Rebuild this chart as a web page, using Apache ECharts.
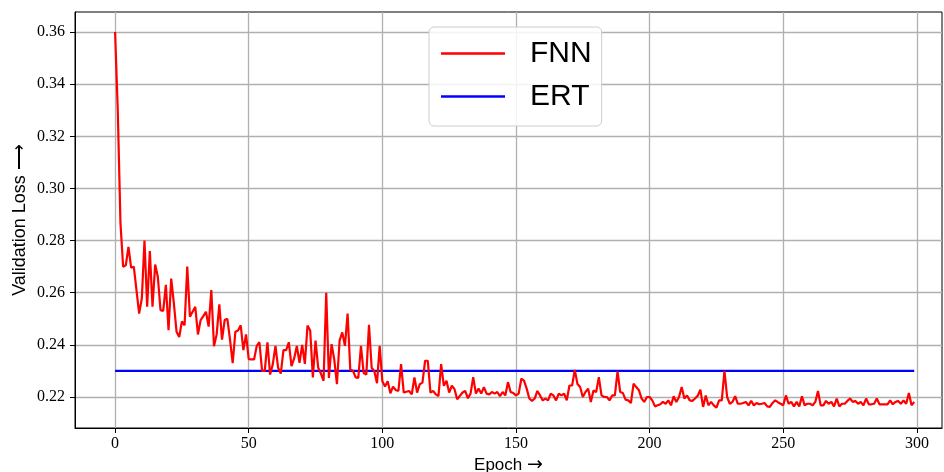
<!DOCTYPE html>
<html>
<head>
<meta charset="utf-8">
<script src="https://cdn.jsdelivr.net/npm/echarts@6/dist/echarts.min.js"></script>
<style>html,body{margin:0;padding:0;background:#fff;}#chart{width:944px;height:472px;}</style>
</head>
<body>
<div id="chart"></div>
<script>
const fnnLoss = [
0.360,0.330,0.287,0.270,0.2705,0.2776,0.2696,0.2700,0.2610,0.2520,
0.2578,0.2800,0.2546,0.2760,0.2546,0.2708,0.2660,0.2533,0.2530,0.2630,
0.2456,0.2654,0.2558,0.2450,0.2430,0.2490,0.2475,0.2700,0.2508,0.2527,
0.2546,0.2440,0.2495,0.2510,0.2527,0.2470,0.2610,0.2395,0.2440,0.2555,
0.2420,0.2495,0.2500,0.2420,0.2330,0.2450,0.2455,0.2475,0.2380,0.2440,
0.2345,0.2344,0.2344,0.2396,0.2410,0.2300,0.2300,0.2410,0.2286,0.2325,
0.2396,0.2312,0.2290,0.2380,0.2380,0.2410,0.2318,0.2348,0.2396,0.2331,
0.2400,0.2327,0.2474,0.2455,0.2275,0.2416,0.2312,0.2290,0.2262,0.2600,
0.2273,0.2403,0.2344,0.2249,0.2416,0.2448,0.2396,0.2520,0.2305,0.2301,
0.2275,0.2273,0.2396,0.2292,0.2286,0.2477,0.2312,0.2299,0.2253,0.2396,
0.2260,0.2240,0.2260,0.2214,0.2240,0.2227,0.2223,0.2326,0.2217,0.2220,
0.2223,0.2210,0.2275,0.2217,0.2249,0.2255,0.2339,0.2339,0.2217,0.2223,
0.2210,0.2204,0.2326,0.2243,0.2262,0.2217,0.2243,0.2230,0.2191,0.2204,
0.2217,0.2223,0.2195,0.2213,0.2276,0.2213,0.2232,0.2213,0.2238,0.2213,
0.2210,0.2219,0.2213,0.2219,0.2203,0.2219,0.2206,0.2257,0.2219,0.2215,
0.2206,0.2213,0.2270,0.2263,0.2232,0.2194,0.2185,0.2194,0.2223,0.2206,
0.2187,0.2194,0.2187,0.2213,0.2206,0.2187,0.2213,0.2206,0.2213,0.2187,
0.2244,0.2244,0.2304,0.2250,0.2238,0.2200,0.2219,0.2232,0.2181,0.2225,
0.2219,0.2276,0.2206,0.2200,0.2200,0.2187,0.2206,0.2206,0.2298,0.2219,
0.2215,0.2190,0.2187,0.2177,0.2251,0.2238,0.2226,0.2194,0.2181,0.2200,
0.2200,0.2187,0.2164,0.2168,0.2172,0.2181,0.2174,0.2187,0.2168,0.2203,
0.2181,0.2200,0.2238,0.2194,0.2206,0.2187,0.2185,0.2194,0.2205,0.2228,
0.2162,0.2206,0.2168,0.2181,0.2168,0.2159,0.2187,0.2187,0.2300,0.2200,
0.2174,0.2181,0.2203,0.2174,0.2174,0.2177,0.2181,0.2168,0.2185,0.2168,
0.2177,0.2172,0.2174,0.2177,0.2164,0.2162,0.2177,0.2187,0.2180,0.2174,
0.2168,0.2206,0.2174,0.2181,0.2164,0.2181,0.2164,0.2203,0.2168,0.2174,
0.2174,0.2168,0.2181,0.2223,0.2168,0.2168,0.2185,0.2174,0.2181,0.2164,
0.2194,0.2164,0.2174,0.2174,0.2185,0.2194,0.2181,0.2185,0.2174,0.2181,
0.2168,0.2194,0.2172,0.2172,0.2174,0.2194,0.2172,0.2172,0.2172,0.2172,
0.2187,0.2172,0.2181,0.2185,0.2174,0.2187,0.2174,0.2215,0.2168,0.2181
];
const ertLoss = 0.23;
const seriesNames = ['FNN', 'ERT'];
const xTicks = [0, 50, 100, 150, 200, 250, 300];
const yTicks = [0.22, 0.24, 0.26, 0.28, 0.30, 0.32, 0.34, 0.36];
const xTitle = 'Epoch {arr|\u2192}';
const yTitle = 'Validation Loss \u27F6';

const fnnData = fnnLoss.map((v, i) => [i, v]);
const ertData = fnnLoss.map((v, i) => [i, ertLoss]);

const chart = echarts.init(document.getElementById('chart'), null, {renderer: 'canvas'});
const tickFont = {fontFamily: 'Liberation Serif', fontSize: 16, color: '#000'};
chart.setOption({
  animation: false,
  backgroundColor: '#fff',
  grid: {left: 75, right: 2, top: 12, bottom: 44, containLabel: false, outerBoundsMode: 'none',
         show: true, borderColor: '#000', borderWidth: 1, backgroundColor: 'transparent'},
  xAxis: {
    type: 'value', min: -15, max: 309.4,
    name: xTitle, nameLocation: 'middle', nameGap: 28, nameMoveOverlap: false,
    nameTextStyle: {fontFamily: 'Liberation Sans', fontSize: 17, color: '#000',
      rich: {arr: {fontFamily: 'DejaVu Sans', fontSize: 19, color: '#000'}}},
    axisLine: {show: true, onZero: false, lineStyle: {color: '#000', width: 1}},
    axisTick: {show: true, inside: false, length: 5, customValues: xTicks, lineStyle: {color: '#000'}},
    axisLabel: Object.assign({margin: 8, customValues: xTicks}, tickFont),
    splitLine: {show: true, lineStyle: {color: '#b0b0b0', width: 1.3}}
  },
  yAxis: {
    type: 'value', min: 0.2081, max: 0.3677,
    name: yTitle, nameLocation: 'middle', nameGap: 46, nameRotate: 90, nameMoveOverlap: false,
    nameTextStyle: {fontFamily: 'Liberation Sans', fontSize: 18, color: '#000'},
    axisLine: {show: true, onZero: false, lineStyle: {color: '#000', width: 1}},
    axisTick: {show: true, inside: false, length: 5, customValues: yTicks, lineStyle: {color: '#000'}},
    axisLabel: Object.assign({margin: 10, customValues: yTicks, formatter: v => v.toFixed(2)}, tickFont),
    splitLine: {show: true, lineStyle: {color: '#b0b0b0', width: 1.3}}
  },
  legend: {
    show: true, orient: 'vertical', left: 429, top: 27,
    padding: [11, 10, 14, 12], itemGap: 12, itemWidth: 64, itemHeight: 2.4, icon: 'rect',
    backgroundColor: 'rgba(255,255,255,0.85)', borderColor: '#cccccc', borderWidth: 1, borderRadius: 5,
    textStyle: {fontFamily: 'Liberation Sans', fontSize: 30, color: '#000', lineHeight: 31, padding: [0, 0, 0, 20]},
    data: seriesNames
  },
  series: [
    {name: seriesNames[0], type: 'line', data: fnnData, showSymbol: false, symbol: 'none', lineStyle: {color: '#ff0000', width: 2.2}, itemStyle: {color: '#ff0000'}, z: 3},
    {name: seriesNames[1], type: 'line', data: ertData, showSymbol: false, symbol: 'none', lineStyle: {color: '#0000ff', width: 2.2}, itemStyle: {color: '#0000ff'}, z: 2}
  ]
});
</script>
</body>
</html>
